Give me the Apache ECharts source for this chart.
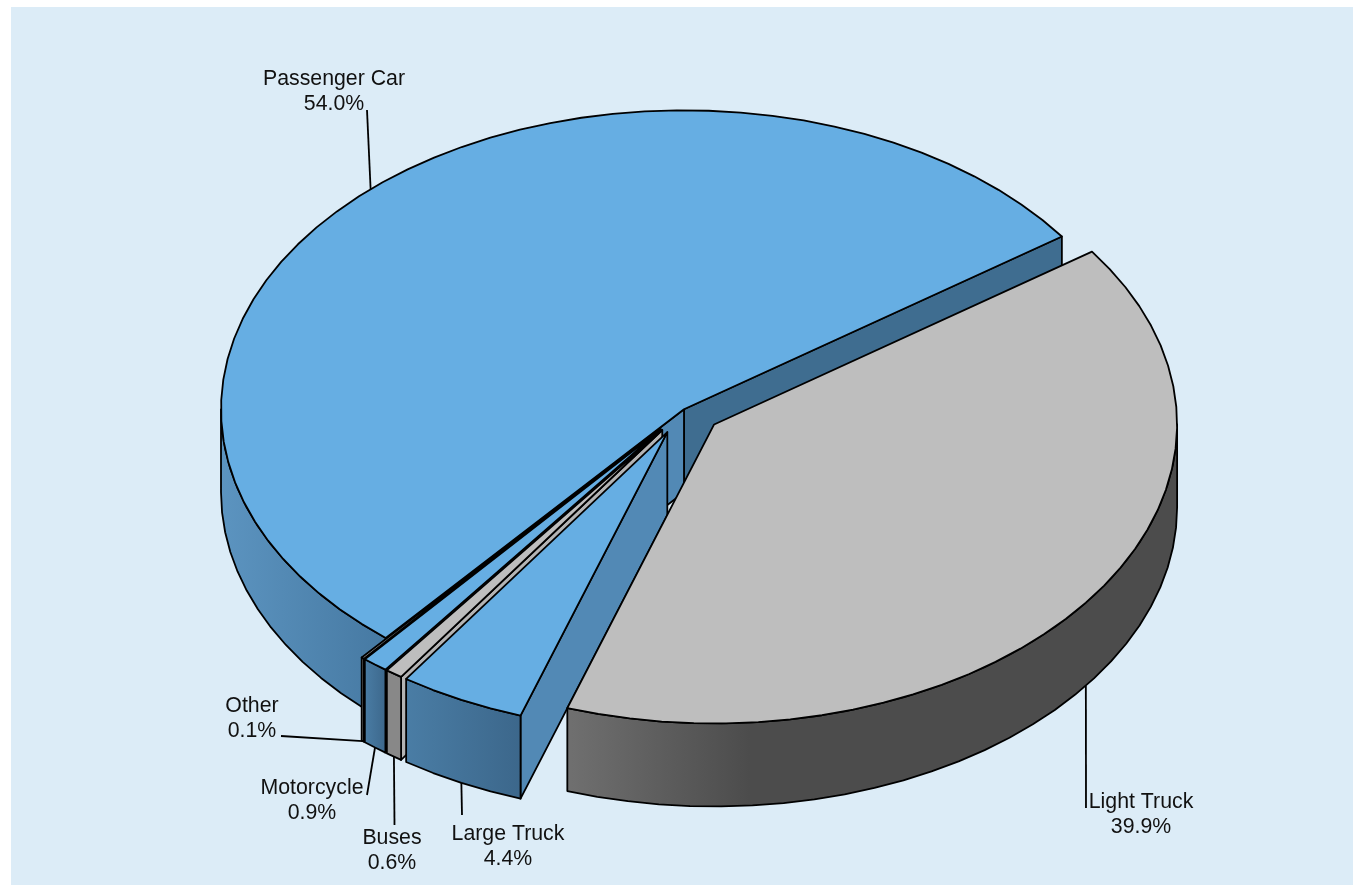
<!DOCTYPE html>
<html>
<head>
<meta charset="utf-8">
<style>html,body{margin:0;padding:0;background:#fff}#c{width:1353px;height:886px}</style>
<script src="https://cdn.jsdelivr.net/npm/echarts@6/dist/echarts.min.js"></script>
</head>
<body>
<div id="c"></div>
<script>
// --- data (back-to-front drawing order, counter-clockwise from the start angle) ---
const categories = ['Passenger Car', 'Other', 'Motorcycle', 'Buses', 'Large Truck', 'Light Truck'];
const shares = [54.0, 0.1, 0.9, 0.6, 4.4, 39.9];

// --- pie geometry / layout ---
const START_ANGLE = 35.3, CX = 684, CY = 409.3, RX = 463, RY = 299, DEPTH = 83;
const explode = [0, 0.081, 0.081, 0.081, 0.081, 0.081];
const blue = {top:'#66aee3', face:['#3f6d90','#5289b5'], side:[[0,'#5c94c0'],[1,'#4679a2']]};
const blueDark = {top:'#66aee3', face:['#3f6d90','#5289b5'], side:[[0,'#4a7da5'],[1,'#3c678b']]};
const grey = {top:'#bebebe', face:['#555555','#b4b4b4'], side:[[0,'#888888'],[1,'#888888']]};
const greyDark = {top:'#bebebe', face:['#555555','#b4b4b4'], side:[[0,'#707070'],[0.3,'#4c4c4c'],[1,'#4c4c4c']]};
const palette = [blue, grey, blueDark, grey, blueDark, greyDark];
// label text centre, and the far end of each leader line
const labelAt = [[334,79],[252,706],[312,788],[392,838],[508,834],[1141,802]];
const leaderEnd = [[367,110],[281,736],[367,795],[394.5,825],[462,815],[1086,808]];
// leader anchors sit on the top rim (0) or on the bottom rim (1)
const anchorRim = [0,1,1,1,1,1];

const sum = shares.reduce((a,b)=>a+b,0);
const rad = d => d*Math.PI/180;
const slices = [];
let acc = START_ANGLE;
shares.forEach((v,i)=>{
  const a1 = acc, a2 = acc + v/sum*360; acc = a2;
  const mid = (a1+a2)/2;
  const ox = CX + explode[i]*RX*Math.cos(rad(mid));
  const oy = CY - explode[i]*1.05*RY*Math.sin(rad(mid));
  slices.push({a1,a2,mid,ox,oy});
});
const pt = (s,a,d=0)=>[s.ox+RX*Math.cos(rad(a)), s.oy-RY*Math.sin(rad(a))+d];
function arc(s,a,b,d){
  const n = Math.max(2,Math.ceil(Math.abs(b-a)/4)), out=[];
  for(let k=0;k<=n;k++) out.push(pt(s,a+(b-a)*k/n,d));
  return out;
}
const stroke = {stroke:'#000',lineWidth:1.8,lineJoin:'round'};
const poly = (points,fill,z)=>({type:'polygon',shape:{points},style:Object.assign({fill},stroke),z2:z});

function renderItem(params){
  const i = params.dataIndex, s = slices[i], c = palette[i], kids = [];
  const apex=[s.ox,s.oy], apexB=[s.ox,s.oy+DEPTH];
  // cut faces
  const faces = [[s.a1,s.a1-90,0],[s.a2,s.a2+90,1]];
  faces.forEach(([a,n,idx])=>{
    if(Math.sin(rad(n))<0){
      const p=pt(s,a), q=pt(s,a,DEPTH);
      const lit = Math.sin(rad(n))>-0.72;
      kids.push(poly([apex,p,q,apexB],c.face[lit?1:0]));
    }
  });
  // outer wall: only the front half of the ellipse is visible
  const lo=Math.max(s.a1,180), hi=Math.min(s.a2,360);
  if(hi>lo){
    const pts=arc(s,lo,hi,0).concat(arc(s,hi,lo,DEPTH));
    kids.push({type:'polygon',shape:{points:pts},z2:0,style:Object.assign({
      fill:new echarts.graphic.LinearGradient(0,0,1,0,c.side.map(([offset,color])=>({offset,color})))
    },stroke)});
  }
  // top
  kids.push(poly([apex].concat(arc(s,s.a1,s.a2,0)),c.top));
  return {type:'group',children:kids};
}
function renderLabels(params){
  const i = params.dataIndex, s = slices[i];
  const a = pt(s,s.mid,anchorRim[i]?DEPTH:0);
  return {type:'group',children:[
    {type:'line',shape:{x1:a[0],y1:a[1],x2:leaderEnd[i][0],y2:leaderEnd[i][1]},style:{stroke:'#000',lineWidth:1.8}},
    {type:'text',style:{text:categories[i]+'\n'+shares[i].toFixed(1)+'%',x:labelAt[i][0],y:labelAt[i][1]-12,
      textAlign:'center',textVerticalAlign:'top',fontFamily:'Liberation Sans',fontSize:21.3,lineHeight:25,fill:'#111'}}
  ]};
}
const chart = echarts.init(document.getElementById('c'),null,{renderer:'canvas'});
chart.setOption({
  animation:false,
  backgroundColor:'#ffffff',
  graphic:[{type:'rect',z:-10,shape:{x:11,y:7,width:1342,height:878},style:{fill:'#dcecf7'}}],
  series:[
    {type:'custom',coordinateSystem:'none',renderItem,data:shares.map((v,i)=>[i,v]),z:2,silent:true},
    {type:'custom',coordinateSystem:'none',renderItem:renderLabels,data:shares.map((v,i)=>[i,v]),z:3,silent:true}
  ]
});
</script>
</body>
</html>
